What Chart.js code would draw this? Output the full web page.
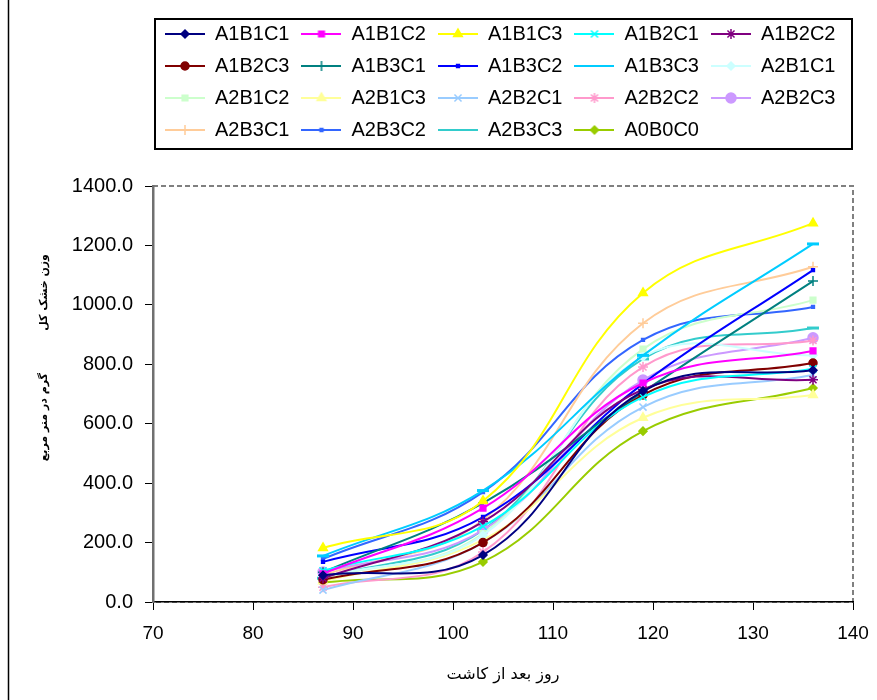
<!DOCTYPE html>
<html><head><meta charset="utf-8">
<script src="https://cdn.jsdelivr.net/npm/chart.js@4.4.0/dist/chart.umd.min.js"></script>
<style>html,body{margin:0;padding:0;background:#fff}#wrap{width:877px;height:700px}</style>
</head><body><div id="wrap"><canvas id="c" width="877" height="700"></canvas></div>
<script>
// ---- data ----
const days = [87, 103, 119, 136];
const xTicks = [70, 80, 90, 100, 110, 120, 130, 140];
const yTicks = [0, 200, 400, 600, 800, 1000, 1200, 1400];
const A1B1C1 = [90, 158, 710, 780];
const A1B1C2 = [95, 316, 737, 845];
const A1B1C3 = [182, 340, 1040, 1275];
const A1B2C1 = [105, 255, 690, 785];
const A1B2C2 = [80, 270, 715, 748];
const A1B2C3 = [75, 200, 697, 804];
const A1B3C1 = [100, 333, 707, 1080];
const A1B3C2 = [135, 286, 735, 1117];
const A1B3C3 = [155, 375, 830, 1205];
const A2B1C1 = [85, 225, 825, 830];
const A2B1C2 = [80, 230, 851, 1016];
const A2B1C3 = [70, 209, 620, 697];
const A2B2C1 = [40, 200, 656, 764];
const A2B2C2 = [50, 168, 791, 880];
const A2B2C3 = [101, 242, 747, 889];
const A2B3C1 = [90, 276, 938, 1128];
const A2B3C2 = [145, 370, 882, 993];
const A2B3C3 = [80, 242, 818, 922];
const A0B0C0 = [65, 135, 575, 720];
const seriesNames = ['A1B1C1','A1B1C2','A1B1C3','A1B2C1','A1B2C2','A1B2C3','A1B3C1','A1B3C2','A1B3C3',
  'A2B1C1','A2B1C2','A2B1C3','A2B2C1','A2B2C2','A2B2C3','A2B3C1','A2B3C2','A2B3C3','A0B0C0'];
const seriesValues = [A1B1C1,A1B1C2,A1B1C3,A1B2C1,A1B2C2,A1B2C3,A1B3C1,A1B3C2,A1B3C3,
  A2B1C1,A2B1C2,A2B1C3,A2B2C1,A2B2C2,A2B2C3,A2B3C1,A2B3C2,A2B3C3,A0B0C0];
const xTitle = 'روز بعد از کاشت';
const yTitle = 'وزن خشک کل' + '\u00A0'.repeat(11) + 'گرم در متر مربع';

// ---- styles ----
const colors = ['#000080','#FF00FF','#FFFF00','#00FFFF','#800080','#800000','#008080','#0000FF','#00CCFF',
  '#CCFFFF','#CCFFCC','#FFFF99','#99CCFF','#FF99CC','#CC99FF','#FFCC99','#3366FF','#33CCCC','#99CC00'];
const markers = ['rectRot','rect','triangle','crossRot','star','circle','cross','rect','line',
  'rectRot','rect','triangle','crossRot','star','circle','cross','rect','line','rectRot'];
const radii = [4,4,5,5,5,4,5,2,6, 4,4,5,5,5,5,5,2,6,4];

function legendSymbol(color, style, r) {
  const c = document.createElement('canvas');
  c.width = 40; c.height = 16;
  const g = c.getContext('2d');
  g.strokeStyle = color; g.lineWidth = 2;
  g.beginPath(); g.moveTo(0, 8); g.lineTo(40, 8); g.stroke();
  g.fillStyle = color; g.lineWidth = 1.5;
  Chart.helpers.drawPoint(g, {pointStyle: style, radius: r, rotation: 0, borderWidth: 1.5}, 20, 8);
  return c;
}
const symbols = seriesNames.map((n, i) => legendSymbol(colors[i], markers[i], radii[i]));

const datasets = seriesNames.map((name, i) => ({
  label: name,
  data: days.map((d, k) => ({x: d, y: seriesValues[i][k]})),
  borderColor: colors[i],
  backgroundColor: colors[i],
  borderWidth: 2,
  pointStyle: markers[i],
  pointRadius: radii[i],
  pointBorderWidth: markers[i] === 'line' ? 3 : 1.5,
  tension: 0.4,
  fill: false
}));

const decor = {
  id: 'decor',
  beforeDraw(chart) {
    const {ctx, chartArea: a} = chart;
    ctx.save();
    ctx.strokeStyle = '#808080'; ctx.lineWidth = 2; ctx.setLineDash([5, 3]);
    ctx.strokeRect(a.left, a.top, a.right - a.left, a.bottom - a.top);
    ctx.restore();
  },
  afterDraw(chart) {
    const {ctx} = chart;
    const L = chart.legend;
    ctx.save();
    ctx.strokeStyle = '#000'; ctx.lineWidth = 2;
    ctx.strokeRect(L.left + 2, L.top + 7, L.width - 3, L.height - 8);
    ctx.lineWidth = 1.5;
    ctx.beginPath(); ctx.moveTo(8.5, 0); ctx.lineTo(8.5, 700); ctx.stroke();
    ctx.restore();
  }
};

new Chart(document.getElementById('c'), {
  type: 'line',
  data: {datasets},
  plugins: [decor],
  options: {
    responsive: false,
    animation: false,
    devicePixelRatio: 1,
    layout: {padding: {top: 12, left: 8, right: 24, bottom: 0}},
    plugins: {
      tooltip: {enabled: false},
      legend: {
        position: 'top',
        fullSize: false,
        align: 'start',
        labels: {
          usePointStyle: true,
          pointStyleWidth: 40,
          padding: 12,
          color: '#000',
          font: {family: "'Liberation Sans', Arial, sans-serif", size: 20},
          generateLabels(chart) {
            const items = Chart.defaults.plugins.legend.labels.generateLabels(chart);
            items.forEach(it => { it.pointStyle = symbols[it.datasetIndex]; });
            return items;
          }
        }
      }
    },
    scales: {
      x: {
        type: 'linear', position: 'bottom', min: 70, max: 140,
        afterFit(s) { s.height = 98; s.paddingRight = 0; s.paddingLeft = 0; },
        afterBuildTicks(s) { s.ticks = xTicks.map(v => ({value: v})); },
        grid: {drawOnChartArea: false, drawTicks: true, tickLength: 8, color: '#000'},
        border: {color: '#000', width: 1.5},
        ticks: {color: '#000', padding: 12, font: {family: "'Liberation Sans', Arial, sans-serif", size: 19}},
        title: {display: true, text: xTitle, color: '#000', padding: {top: 0, bottom: 16},
          font: {family: "'DejaVu Sans', sans-serif", size: 16}}
      },
      x2: {
        type: 'linear', position: 'top', display: true,
        afterFit(s) { s.height = 36; s.paddingRight = 0; s.paddingLeft = 0; },
        grid: {display: false}, ticks: {display: false}, border: {display: false}
      },
      y: {
        type: 'linear', min: 0, max: 1400,
        afterFit(s) { s.width = 145; },
        afterBuildTicks(s) { s.ticks = yTicks.map(v => ({value: v})); },
        grid: {drawOnChartArea: false, drawTicks: true, tickLength: 8, color: '#000'},
        border: {color: '#707070', width: 2.5},
        ticks: {color: '#000', padding: 12, callback: v => Number(v).toFixed(1),
          font: {family: "'Liberation Sans', Arial, sans-serif", size: 20}},
        title: {display: true, text: '\u00A0'.repeat(19) + yTitle, color: '#000', padding: {top: 30, bottom: 0},
          font: {family: "'DejaVu Sans', sans-serif", size: 11, weight: 'bold'}}
      }
    }
  }
});
</script></body></html>
